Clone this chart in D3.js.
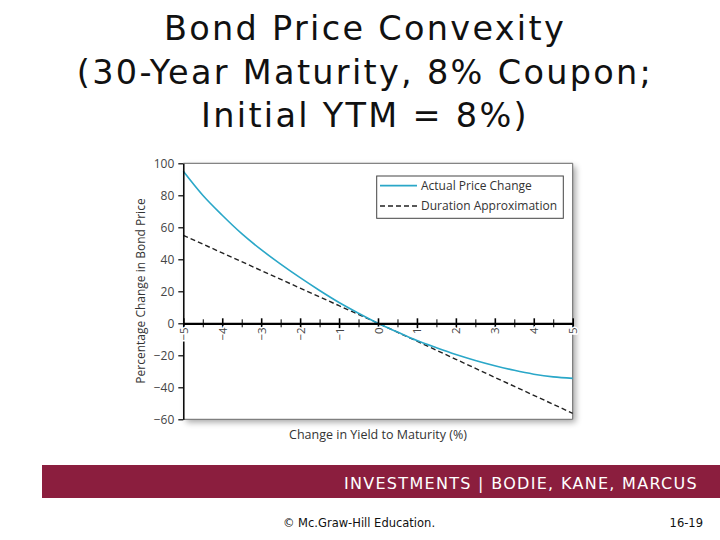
<!DOCTYPE html>
<html>
<head>
<meta charset="utf-8">
<script src="https://cdn.jsdelivr.net/npm/d3@7"></script>
<style>
  body { margin: 0; background: #fff; }
  svg { display: block; }
</style>
</head>
<body>
<svg id="chart" width="720" height="540"></svg>
<script>
// values
var yieldChange = [-5, -4.5, -4, -3.5, -3, -2.5, -2, -1.5, -1, -0.5, 0,
                   0.5, 1, 1.5, 2, 2.5, 3, 3.5, 4, 4.5, 5];
var actualChange = [95, 80, 67.5, 56, 46, 37, 28.5, 20.5, 13, 6.3, 0,
                    -5.5, -10.8, -15.3, -19.5, -23.2, -26.5, -29.4, -31.8, -33.5, -34.4];
var durationYield = [-5, -4, -3, -2, -1, 0, 1, 2, 3, 4, 5];
var durationApprox = [55, 44, 33, 22, 11, 0, -11.2, -22.5, -33.8, -45, -56.3];

var xTicks = [-5, -4, -3, -2, -1, 0, 1, 2, 3, 4, 5];
var xMinorTicks = [-4.5, -3.5, -2.5, -1.5, -0.5, 0.5, 1.5, 2.5, 3.5, 4.5];
var yTicks = [100, 80, 60, 40, 20, 0, -20, -40, -60];

var titleLines = ["Bond Price Convexity", "(30-Year Maturity, 8% Coupon;", "Initial YTM = 8%)"];
var seriesNames = ["Actual Price Change", "Duration Approximation"];

var svg = d3.select("#chart");
var chartFont = "'Open Sans', 'Noto Sans', sans-serif";
var slideFont = "'DejaVu Sans', Verdana, sans-serif";

var x = d3.scaleLinear().domain([-5, 5]).range([183.3, 572.7]);
var y = d3.scaleLinear().domain([-60, 100]).range([419.3, 163.3]);

// title
svg.append("g").selectAll("text")
  .data(titleLines)
  .enter().append("text")
  .attr("x", 365)
  .attr("y", function(d, i) { return 40 + i * 43.5; })
  .attr("text-anchor", "middle")
  .attr("font-family", slideFont)
  .attr("font-size", 33.5)
  .attr("letter-spacing", 2.3)
  .attr("fill", "#111")
  .text(function(d) { return d; });

// drop shadow behind the plot
var defs = svg.append("defs");
var f = defs.append("filter").attr("id", "shadow")
  .attr("x", "-10%").attr("y", "-10%").attr("width", "125%").attr("height", "125%");
f.append("feGaussianBlur").attr("in", "SourceAlpha").attr("stdDeviation", 3);
f.append("feOffset").attr("dx", 3).attr("dy", 3).attr("result", "b");
f.append("feComponentTransfer").append("feFuncA").attr("type", "linear").attr("slope", 0.35);
var m = f.append("feMerge");
m.append("feMergeNode");
m.append("feMergeNode").attr("in", "SourceGraphic");

svg.append("rect")
  .attr("x", x(-5)).attr("y", y(100))
  .attr("width", x(5) - x(-5)).attr("height", y(-60) - y(100))
  .attr("fill", "#fff")
  .attr("filter", "url(#shadow)");

// frame: top, right, bottom
svg.append("path")
  .attr("d", "M" + x(-5) + "," + y(100) + "H" + x(5) + "V" + y(-60) + "H" + x(-5))
  .attr("fill", "none")
  .attr("stroke", "#666")
  .attr("stroke-width", 1);

// lines
var line = d3.line().curve(d3.curveMonotoneX);

svg.append("path")
  .datum(durationYield.map(function(d, i) { return [x(d), y(durationApprox[i])]; }))
  .attr("d", line)
  .attr("fill", "none")
  .attr("stroke", "#222")
  .attr("stroke-width", 1.4)
  .attr("stroke-dasharray", "5,3");

svg.append("path")
  .datum(yieldChange.map(function(d, i) { return [x(d), y(actualChange[i])]; }))
  .attr("d", line)
  .attr("fill", "none")
  .attr("stroke", "#2aa7c8")
  .attr("stroke-width", 1.6);

// y axis
var yAxis = svg.append("g")
  .attr("transform", "translate(" + x(-5) + ",0)")
  .call(d3.axisLeft(y).tickValues(yTicks).tickSize(5).tickSizeOuter(0).tickPadding(4));
yAxis.select(".domain").attr("stroke", "#000").attr("stroke-width", 1.5);
yAxis.selectAll(".tick line").attr("stroke", "#000").attr("stroke-width", 1.2);
yAxis.selectAll("text")
  .attr("font-family", chartFont).attr("font-size", 12).attr("fill", "#444");

// x axis through zero
var xMinor = svg.append("g")
  .attr("transform", "translate(0," + y(0) + ")")
  .call(d3.axisBottom(x).tickValues(xMinorTicks).tickSize(4).tickSizeOuter(0).tickFormat(""));
xMinor.select(".domain").remove();
xMinor.selectAll(".tick line").attr("y1", -4).attr("y2", 4).attr("stroke", "#000").attr("stroke-width", 1);

var xAxis = svg.append("g")
  .attr("transform", "translate(0," + y(0) + ")")
  .call(d3.axisBottom(x).tickValues(xTicks).tickSize(5).tickSizeOuter(0));
xAxis.select(".domain").attr("stroke", "#000").attr("stroke-width", 2.2);
xAxis.selectAll(".tick line").attr("y1", -5).attr("y2", 5).attr("stroke", "#000").attr("stroke-width", 1.6);
xAxis.selectAll("text")
  .attr("transform", "rotate(-90)")
  .attr("x", -4).attr("y", 0).attr("dy", "0.35em")
  .attr("text-anchor", "end")
  .attr("font-family", chartFont).attr("font-size", 11.5).attr("fill", "#444")
  .attr("stroke", "#fff").attr("stroke-width", 3).attr("paint-order", "stroke");

// axis titles
svg.append("text")
  .attr("x", x(0)).attr("y", 439)
  .attr("text-anchor", "middle")
  .attr("font-family", chartFont).attr("font-size", 12.5).attr("fill", "#333")
  .text("Change in Yield to Maturity (%)");

svg.append("text")
  .attr("transform", "translate(145," + 291 + ") rotate(-90)")
  .attr("text-anchor", "middle")
  .attr("font-family", chartFont).attr("font-size", 12).attr("fill", "#333")
  .text("Percentage Change in Bond Price");

// legend
var legend = svg.append("g");
legend.append("rect")
  .attr("x", 376.7).attr("y", 176).attr("width", 186.6).attr("height", 42.3)
  .attr("fill", "#fff").attr("stroke", "#444").attr("stroke-width", 1);
var legendStyles = [{ color: "#2aa7c8", dash: null, w: 1.8 }, { color: "#222", dash: "5,3", w: 1.4 }];
seriesNames.forEach(function(name, i) {
  var ly = 185.7 + i * 20.3;
  legend.append("line")
    .attr("x1", 380).attr("x2", 417).attr("y1", ly).attr("y2", ly)
    .attr("stroke", legendStyles[i].color)
    .attr("stroke-width", legendStyles[i].w)
    .attr("stroke-dasharray", legendStyles[i].dash);
  legend.append("text")
    .attr("x", 421).attr("y", ly).attr("dy", "0.35em")
    .attr("font-family", chartFont).attr("font-size", 12).attr("fill", "#333")
    .text(name);
});

// slide footer
svg.append("rect")
  .attr("x", 42).attr("y", 465).attr("width", 678).attr("height", 33)
  .attr("fill", "#8b1e3e");
svg.append("text")
  .attr("x", 698).attr("y", 489)
  .attr("text-anchor", "end")
  .attr("font-family", slideFont).attr("font-size", 16).attr("letter-spacing", 1.3)
  .attr("fill", "#fff")
  .text("INVESTMENTS | BODIE, KANE, MARCUS");
svg.append("text")
  .attr("x", 359).attr("y", 527)
  .attr("text-anchor", "middle")
  .attr("font-family", slideFont).attr("font-size", 11.5).attr("fill", "#111")
  .text("© Mc.Graw-Hill Education.");
svg.append("text")
  .attr("x", 703).attr("y", 527)
  .attr("text-anchor", "end")
  .attr("font-family", slideFont).attr("font-size", 11.5).attr("fill", "#111")
  .text("16-19");
</script>
</body>
</html>
